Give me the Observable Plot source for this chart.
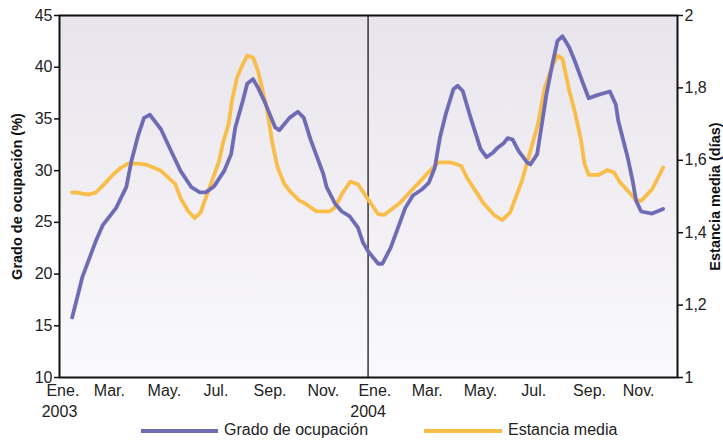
<!DOCTYPE html>
<html>
<head>
<meta charset="utf-8">
<script src="https://cdn.jsdelivr.net/npm/d3@7"></script>
<script src="https://cdn.jsdelivr.net/npm/@observablehq/plot@0.6"></script>
<style>
  body { margin: 0; background: white; font-family: "Liberation Sans", Arial, Helvetica, sans-serif; }
  #wrap { position: relative; width: 723px; }
  #legend { position: relative; height: 21px; width: 723px; font-size: 16px; color: #222; }
  .sw { position: absolute; top: 8.5px; height: 4px; }
  .lt { position: absolute; top: 0px; line-height: 19px; }
</style>
</head>
<body>
<div id="wrap"></div>
<script>
// ---- Data ----
const ocupDates = ["2003-01-16","2003-01-28","2003-02-13","2003-02-21","2003-03-09","2003-03-21","2003-03-27","2003-04-04","2003-04-11","2003-04-18","2003-05-01","2003-05-13","2003-05-24","2003-06-06","2003-06-16","2003-06-23","2003-07-03","2003-07-15","2003-07-23","2003-07-28","2003-08-06","2003-08-11","2003-08-18","2003-08-24","2003-09-01","2003-09-13","2003-09-18","2003-09-30","2003-10-10","2003-10-17","2003-10-25","2003-11-09","2003-11-13","2003-11-23","2003-12-01","2003-12-10","2003-12-20","2003-12-26","2004-01-01","2004-01-13","2004-01-18","2004-01-28","2004-02-10","2004-02-14","2004-02-23","2004-03-05","2004-03-13","2004-03-20","2004-03-26","2004-04-02","2004-04-11","2004-04-16","2004-04-22","2004-05-01","2004-05-13","2004-05-20","2004-05-28","2004-06-02","2004-06-10","2004-06-14","2004-06-20","2004-06-27","2004-07-07","2004-07-11","2004-07-19","2004-07-24","2004-07-30","2004-08-06","2004-08-12","2004-08-18","2004-08-26","2004-09-02","2004-09-11","2004-09-18","2004-09-28","2004-10-13","2004-10-20","2004-10-23","2004-11-03","2004-11-09","2004-11-13","2004-11-19","2004-12-02","2004-12-15"];
const ocupValues = [15.8,19.7,23.2,24.7,26.4,28.4,30.9,33.4,35.1,35.4,34.0,31.9,30.0,28.4,27.9,27.9,28.5,30.0,31.6,34.2,36.8,38.4,38.85,38.0,36.6,34.2,33.9,35.1,35.7,35.1,33.0,29.7,28.4,26.8,26.05,25.6,24.5,23.05,22.2,21.0,21.0,22.6,25.5,26.4,27.6,28.2,28.85,30.3,33.2,35.5,37.9,38.2,37.7,35.2,32.1,31.3,31.75,32.2,32.7,33.15,33.0,31.9,30.8,30.6,31.6,34.2,37.4,40.3,42.55,43.0,41.9,40.5,38.5,37.0,37.3,37.65,36.4,34.8,31.3,29.0,27.1,26.05,25.85,26.3];

const estDates = ["2003-01-16","2003-01-22","2003-02-04","2003-02-13","2003-02-23","2003-03-05","2003-03-15","2003-03-23","2003-04-04","2003-04-14","2003-04-24","2003-05-01","2003-05-18","2003-05-24","2003-06-02","2003-06-10","2003-06-17","2003-06-21","2003-06-29","2003-07-09","2003-07-13","2003-07-20","2003-07-24","2003-07-30","2003-08-06","2003-08-11","2003-08-18","2003-08-24","2003-09-03","2003-09-10","2003-09-16","2003-09-24","2003-10-02","2003-10-12","2003-10-17","2003-11-01","2003-11-17","2003-11-23","2003-12-01","2003-12-11","2003-12-20","2004-01-01","2004-01-13","2004-01-20","2004-01-26","2004-02-08","2004-02-21","2004-03-03","2004-03-15","2004-03-24","2004-04-08","2004-04-20","2004-04-27","2004-05-03","2004-05-16","2004-05-30","2004-06-08","2004-06-17","2004-06-23","2004-07-01","2004-07-11","2004-07-20","2004-07-28","2004-08-06","2004-08-12","2004-08-18","2004-08-26","2004-09-02","2004-09-09","2004-09-13","2004-09-18","2004-09-30","2004-10-10","2004-10-18","2004-10-25","2004-11-05","2004-11-13","2004-11-19","2004-12-02","2004-12-15"];
const estValues = [1.511,1.511,1.505,1.511,1.534,1.56,1.58,1.591,1.591,1.588,1.578,1.571,1.534,1.497,1.46,1.44,1.456,1.483,1.534,1.599,1.645,1.70,1.764,1.829,1.866,1.889,1.884,1.845,1.746,1.645,1.58,1.534,1.511,1.488,1.483,1.459,1.459,1.47,1.507,1.541,1.534,1.492,1.451,1.449,1.46,1.483,1.516,1.543,1.573,1.594,1.594,1.585,1.552,1.53,1.483,1.447,1.435,1.456,1.493,1.543,1.626,1.70,1.801,1.861,1.889,1.88,1.792,1.73,1.654,1.59,1.56,1.56,1.573,1.566,1.539,1.511,1.49,1.488,1.52,1.58];

const monthTickDates = ["2003-01-05","2003-03-01","2003-05-05","2003-07-05","2003-09-07","2003-11-09","2004-01-09","2004-03-11","2004-05-13","2004-07-15","2004-09-19","2004-11-16"];
const monthTickLabels = ["Ene.","Mar.","May.","Jul.","Sep.","Nov.","Ene.","Mar.","May.","Jul.","Sep.","Nov."];
const yearTickDates = ["2003-01-01","2004-01-01"];
const yearTickLabels = ["2003","2004"];
const leftTicks = [10,15,20,25,30,35,40,45];
const rightTicks = [1,1.2,1.4,1.6,1.8,2];
const yearDivider = ["2004-01-01"];
const xDomain = ["2003-01-01","2005-01-01"];

const series = [
  {name: "Grado de ocupación", color: "#6e6cb4"},
  {name: "Estancia media", color: "#f9bd4a"}
];

// ---- Helpers ----
const P = d3.utcParse("%Y-%m-%d");
const LMIN = 10, LMAX = 45, RMIN = 1, RMAX = 2;
const toLeft = r => LMIN + (r - RMIN) * (LMAX - LMIN) / (RMAX - RMIN);
const toRight = l => RMIN + (l - LMIN) * (RMAX - RMIN) / (LMAX - LMIN);
const fmtComma = v => String(Math.round(v * 10) / 10).replace(".", ",");

const ocup = ocupDates.map((d, i) => ({date: P(d), value: ocupValues[i]}));
const est = estDates.map((d, i) => ({date: P(d), value: estValues[i]}));
const mLab = new Map(monthTickDates.map((d, i) => [+P(d), monthTickLabels[i]]));
const yLab = new Map(yearTickDates.map((d, i) => [+P(d), yearTickLabels[i]]));

const font = '"Liberation Sans", Arial, Helvetica, sans-serif';

const svg = Plot.plot({
  width: 723,
  height: 420,
  marginLeft: 59,
  marginRight: 46,
  marginTop: 15,
  marginBottom: 43,
  style: {fontFamily: font, fontSize: "16px", color: "#222", background: "white", overflow: "visible"},
  x: {type: "utc", domain: xDomain.map(P)},
  y: {domain: [LMIN, LMAX]},
  marks: [
    Plot.frame({fill: "url(#bgGrad)", stroke: "none"}),
    Plot.ruleX(yearDivider.map(P), {stroke: "#1a1a1a", strokeWidth: 1.3}),
    Plot.line(est, {x: "date", y: d => toLeft(d.value), stroke: series[1].color, strokeWidth: 3.8, curve: "linear"}),
    Plot.line(ocup, {x: "date", y: "value", stroke: series[0].color, strokeWidth: 3.8, curve: "linear"}),
    Plot.frame({stroke: "#111", strokeWidth: 2}),
    Plot.axisY({anchor: "left", ticks: leftTicks, tickSize: 5, tickPadding: 2, stroke: "#111", strokeWidth: 1.5, fontSize: 16, label: null}),
    Plot.axisY({anchor: "right", ticks: rightTicks.map(toLeft), tickFormat: v => fmtComma(toRight(v)), tickSize: 5, tickPadding: 2, stroke: "#111", strokeWidth: 1.5, fontSize: 16, label: null}),
    Plot.axisX({anchor: "bottom", ticks: monthTickDates.map(P), tickFormat: d => mLab.get(+d), tickSize: 0, tickPadding: 7, fontSize: 16, label: null}),
    Plot.axisX({anchor: "bottom", ticks: yearTickDates.map(P), tickFormat: d => yLab.get(+d), tickSize: 0, tickPadding: 28, fontSize: 16, label: null}),
    Plot.text(["Grado de ocupación (%)"], {frameAnchor: "left", text: d => d, rotate: -90, dx: -42, fontWeight: "bold", fontSize: 14.5, fill: "#111", textAnchor: "middle", lineAnchor: "middle"}),
    Plot.text(["Estancia media (días)"], {frameAnchor: "right", text: d => d, rotate: -90, dx: 38, fontWeight: "bold", fontSize: 14.5, fill: "#111", textAnchor: "middle", lineAnchor: "middle"})
  ]
});

d3.select(svg).insert("defs", ":first-child").html(
  '<linearGradient id="bgGrad" x1="0" y1="0" x2="0" y2="1">' +
  '<stop offset="0" stop-color="#e8e4ec"/>' +
  '<stop offset="1" stop-color="#faf9fb"/>' +
  '</linearGradient>'
);

const wrap = document.getElementById("wrap");
wrap.appendChild(svg);

// Legend
const legend = document.createElement("div");
legend.id = "legend";
const legendPos = [{sw: 141, w: 77, tx: 224}, {sw: 424, w: 78, tx: 508}];
series.forEach((s, i) => {
  const sw = document.createElement("div");
  sw.className = "sw";
  sw.style.left = legendPos[i].sw + "px";
  sw.style.width = legendPos[i].w + "px";
  sw.style.background = s.color;
  const t = document.createElement("div");
  t.className = "lt";
  t.style.left = legendPos[i].tx + "px";
  t.textContent = s.name;
  legend.appendChild(sw);
  legend.appendChild(t);
});
wrap.appendChild(legend);
</script>
</body>
</html>
